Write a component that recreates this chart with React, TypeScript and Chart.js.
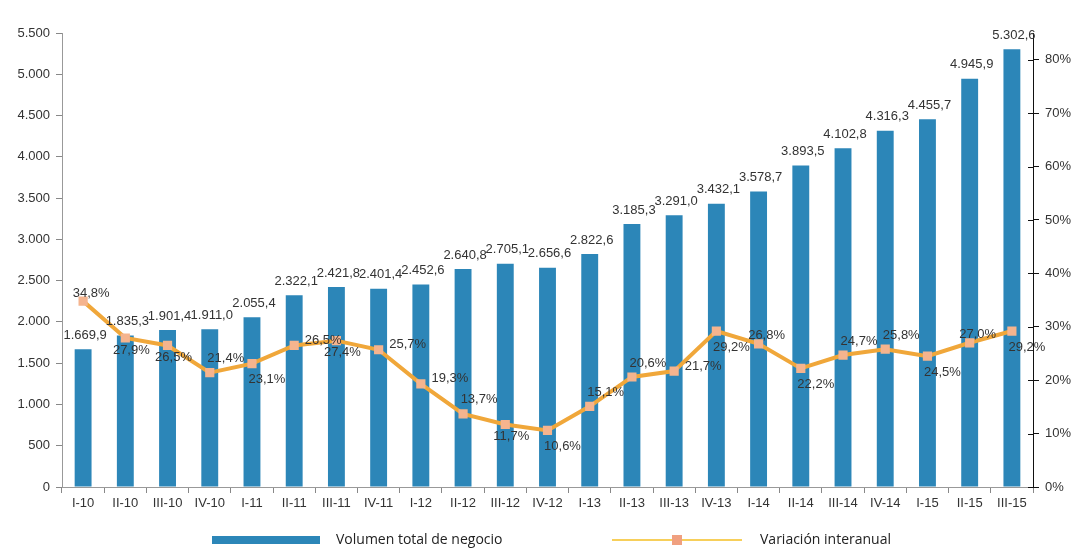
import { useEffect, useRef } from 'react';
import { Chart, registerables } from 'chart.js';

Chart.register(...registerables);

const categories = ['I-10', 'II-10', 'III-10', 'IV-10', 'I-11', 'II-11', 'III-11', 'IV-11', 'I-12', 'II-12', 'III-12', 'IV-12', 'I-13', 'II-13', 'III-13', 'IV-13', 'I-14', 'II-14', 'III-14', 'IV-14', 'I-15', 'II-15', 'III-15'];
const volumen = [1669.9, 1835.3, 1901.4, 1911.0, 2055.4, 2322.1, 2421.8, 2401.4, 2452.6, 2640.8, 2705.1, 2656.6, 2822.6, 3185.3, 3291.0, 3432.1, 3578.7, 3893.5, 4102.8, 4316.3, 4455.7, 4945.9, 5302.6];
const variacion = [34.8, 27.9, 26.5, 21.4, 23.1, 26.5, 27.4, 25.7, 19.3, 13.7, 11.7, 10.6, 15.1, 20.6, 21.7, 29.2, 26.8, 22.2, 24.7, 25.8, 24.5, 27.0, 29.2];
const leftTicks = [0, 500, 1000, 1500, 2000, 2500, 3000, 3500, 4000, 4500, 5000, 5500];
const rightTicks = [0, 10, 20, 30, 40, 50, 60, 70, 80];
const seriesNames = ['Volumen total de negocio', 'Variación interanual'];
// label anchor per percentage point (style only)
const pctLabelPlacement = ['a', 'b', 'b', 'ar', 'br', 'r', 'b', 'r', 'r', 'ar', 'b', 'br', 'ar', 'ar', 'r', 'br', 'a', 'br', 'ar', 'ar', 'br', 'a', 'br'];

const BAR_COLOR = '#2C86B8';
const LINE_COLOR = '#F0A73A';
const MARKER_COLOR = '#F5B48E';
const FONT = '"Liberation Sans", Arial, sans-serif';

const placementOffsets: Record<string, { dx: number; dy: number }> = {
  a: { dx: 8, dy: -8 },
  b: { dx: 6, dy: 12 },
  ar: { dx: 16, dy: -14 },
  br: { dx: 15, dy: 16 },
  r: { dx: 29, dy: -5 },
};

function fmtEs(v: number, d: number): string {
  const [i, f] = v.toFixed(d).split('.');
  const ii = i.replace(/\B(?=(\d{3})+(?!\d))/g, '.');
  return f ? ii + ',' + f : ii;
}

const labelsPlugin = {
  id: 'valueLabels',
  afterDatasetsDraw(chart: any) {
    const ctx = chart.ctx;
    ctx.save();
    ctx.font = `13px ${FONT}`;
    ctx.fillStyle = '#333';
    ctx.textAlign = 'center';
    ctx.textBaseline = 'middle';
    chart.getDatasetMeta(1).data.forEach((bar: any, i: number) => {
      ctx.fillText(fmtEs(volumen[i], 1), bar.x + 2, bar.y - 14);
    });
    chart.getDatasetMeta(0).data.forEach((pt: any, i: number) => {
      const off = placementOffsets[pctLabelPlacement[i]] || { dx: 0, dy: -12 };
      ctx.fillText(fmtEs(variacion[i], 1) + '%', pt.x + off.dx, pt.y + off.dy);
    });
    ctx.restore();
  },
  afterDraw(chart: any) {
    const ctx = chart.ctx;
    const y1 = chart.scales.y1;
    ctx.save();
    ctx.strokeStyle = '#111';
    ctx.lineWidth = 1;
    y1.ticks.forEach((t: any) => {
      const y = Math.round(y1.getPixelForValue(t.value)) + 0.5;
      ctx.beginPath();
      ctx.moveTo(y1.left - 5, y);
      ctx.lineTo(y1.left, y);
      ctx.stroke();
    });
    const ly = 540;
    ctx.fillStyle = BAR_COLOR;
    ctx.fillRect(212, ly - 4, 108, 8);
    ctx.font = `14px "Open Sans", sans-serif`;
    ctx.fillStyle = '#222';
    ctx.textAlign = 'left';
    ctx.textBaseline = 'middle';
    ctx.fillText(seriesNames[0], 336, ly);
    ctx.strokeStyle = '#F7CF5A';
    ctx.lineWidth = 2;
    ctx.beginPath();
    ctx.moveTo(612, ly);
    ctx.lineTo(742, ly);
    ctx.stroke();
    ctx.fillStyle = '#F0A080';
    ctx.fillRect(672, ly - 5, 10, 10);
    ctx.fillStyle = '#222';
    ctx.fillText(seriesNames[1], 760, ly);
    ctx.restore();
  },
};

export default function App() {
  const ref = useRef<HTMLCanvasElement | null>(null);
  useEffect(() => {
    if (!ref.current) return;
    const chart = new Chart(ref.current, {
      type: 'bar',
      data: {
        labels: categories,
        datasets: [
          {
            type: 'line',
            label: seriesNames[1],
            data: variacion,
            yAxisID: 'y1',
            borderColor: LINE_COLOR,
            borderWidth: 4,
            backgroundColor: MARKER_COLOR,
            pointStyle: 'rect',
            pointRadius: 6.5,
            pointBackgroundColor: MARKER_COLOR,
            pointBorderWidth: 0,
            tension: 0,
            order: 1,
          } as any,
          {
            type: 'bar',
            label: seriesNames[0],
            data: volumen,
            yAxisID: 'y',
            backgroundColor: BAR_COLOR,
            barPercentage: 0.4,
            categoryPercentage: 1,
            order: 2,
          } as any,
        ],
      },
      options: {
        animation: false,
        responsive: true,
        maintainAspectRatio: false,
        layout: { padding: { top: 33, left: 0, right: 0, bottom: 0 } },
        plugins: { legend: { display: false }, tooltip: { enabled: false } },
        scales: {
          x: {
            offset: true,
            grid: { offset: true, drawOnChartArea: false, tickLength: 6, color: '#888' },
            border: { color: '#999' },
            ticks: { color: '#333', font: { family: FONT, size: 13 }, padding: 3, maxRotation: 0, autoSkip: false },
            afterFit: (s: any) => { s.height = 69; },
          },
          y: {
            position: 'left',
            min: 0,
            max: 5500,
            afterBuildTicks: (s: any) => { s.ticks = leftTicks.map((v) => ({ value: v })); },
            ticks: { color: '#333', font: { family: FONT, size: 13 }, padding: 6, callback: (v: any) => fmtEs(Number(v), 0) },
            grid: { drawOnChartArea: false, tickLength: 6, color: '#888' },
            border: { color: '#999' },
            afterFit: (s: any) => { s.width = 62; },
          },
          y1: {
            position: 'right',
            min: 0,
            max: 85,
            afterBuildTicks: (s: any) => { s.ticks = rightTicks.map((v) => ({ value: v })); },
            ticks: { color: '#333', font: { family: FONT, size: 13 }, padding: 6, callback: (v: any) => v + '%' },
            grid: { drawOnChartArea: false, tickLength: 6, color: '#111' },
            border: { color: '#111' },
            afterFit: (s: any) => { s.width = 47; },
          },
        },
      },
      plugins: [labelsPlugin],
    });
    return () => chart.destroy();
  }, []);
  return (
    <div style={{ position: 'fixed', left: 0, top: 0, width: 1080, height: 556, background: '#fff' }}>
      <canvas ref={ref} />
    </div>
  );
}
